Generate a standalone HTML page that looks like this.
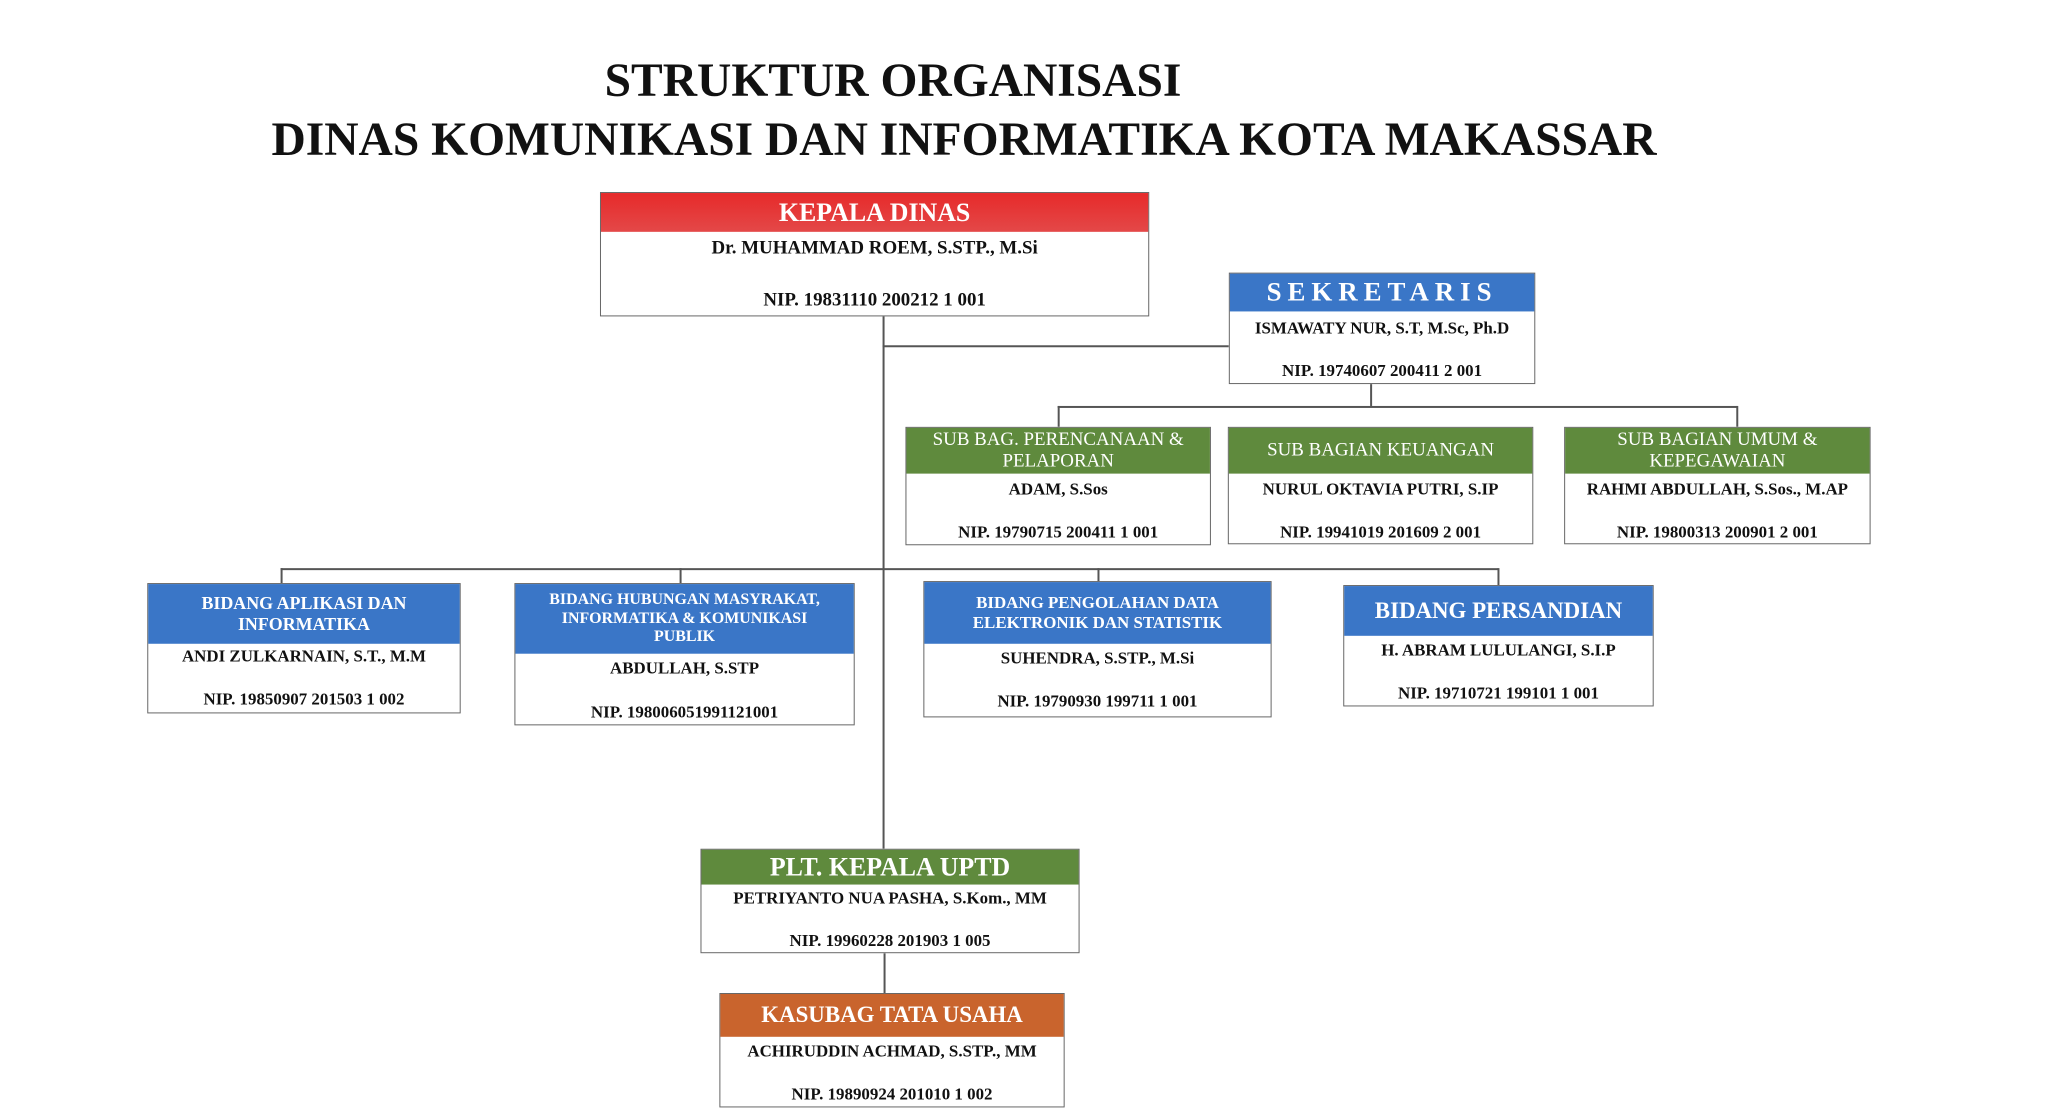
<!DOCTYPE html>
<html><head><meta charset="utf-8"><style>
body{margin:0;width:2048px;height:1117px;background:#fff;position:relative;overflow:hidden;font-family:"Liberation Serif",serif;font-weight:bold}
.t{position:absolute;white-space:nowrap;transform:translate(-50%,-50%);color:#111}
#d{position:absolute;left:0;top:0;width:2048px;height:1117px;transform:scale(0.995);transform-origin:0 0}
.b{position:absolute;border:1.5px solid #666;background:#fff;box-sizing:border-box}
.h{position:absolute;left:0;right:0;top:0;color:#fff;display:flex;align-items:center;justify-content:center;text-align:center;line-height:1.15}
.l{position:absolute;background:#555}
.red{background:linear-gradient(#e62a2a,#e44848)}
.blue{background:#3a76c7}
.green{background:#5f8a3d}
.org{background:#c9642d}
.n{position:absolute;left:0;right:0;text-align:center;font-size:18px;transform:translateY(-50%);color:#111;white-space:nowrap}
</style></head><body>
<div class="t" style="left:893px;top:81px;font-size:47.5px">STRUKTUR ORGANISASI</div>
<div class="t" style="left:964px;top:140px;font-size:47.5px">DINAS KOMUNIKASI DAN INFORMATIKA KOTA MAKASSAR</div>
<div id="d">
<div class="l" style="left:887px;top:318px;width:1.5px;height:535px"></div>
<div class="l" style="left:887px;top:347px;width:348px;height:1.5px"></div>
<div class="l" style="left:1377px;top:386px;width:1.5px;height:22px"></div>
<div class="l" style="left:1063px;top:408px;width:683px;height:1.5px"></div>
<div class="l" style="left:1063px;top:408px;width:1.5px;height:21px"></div>
<div class="l" style="left:1745px;top:408px;width:1.5px;height:21px"></div>
<div class="l" style="left:282px;top:571px;width:1224px;height:1.5px"></div>
<div class="l" style="left:282px;top:571px;width:1.5px;height:15px"></div>
<div class="l" style="left:683px;top:571px;width:1.5px;height:15px"></div>
<div class="l" style="left:1103px;top:571px;width:1.5px;height:13px"></div>
<div class="l" style="left:1505px;top:571px;width:1.5px;height:17px"></div>
<div class="l" style="left:888px;top:958px;width:1.5px;height:40px"></div>

<div class="b" style="left:603px;top:193px;width:552px;height:125px"><div class="h red" style="height:39px;font-size:26px">KEPALA DINAS</div>
<div class="n" style="top:56px;font-size:19px">Dr. MUHAMMAD ROEM, S.STP., M.Si</div><div class="n" style="top:108px;font-size:19px">NIP. 19831110 200212 1 001</div></div>

<div class="b" style="left:1235px;top:274px;width:308px;height:112px"><div class="h blue" style="height:38px;font-size:27px;letter-spacing:6px">SEKRETARIS</div>
<div class="n" style="top:55px;font-size:17px">ISMAWATY NUR, S.T, M.Sc, Ph.D</div><div class="n" style="top:98px;font-size:17px">NIP. 19740607 200411 2 001</div></div>

<div class="b" style="left:910px;top:429px;width:307px;height:119px"><div class="h green" style="height:46px;font-size:19px;font-weight:normal">SUB BAG. PERENCANAAN &amp;<br>PELAPORAN</div>
<div class="n" style="top:62px;font-size:17px">ADAM, S.Sos</div><div class="n" style="top:105px;font-size:17px">NIP. 19790715 200411 1 001</div></div>
<div class="b" style="left:1234px;top:429px;width:307px;height:118px"><div class="h green" style="height:46px;font-size:19px;font-weight:normal">SUB BAGIAN KEUANGAN</div>
<div class="n" style="top:62px;font-size:17px">NURUL OKTAVIA PUTRI, S.IP</div><div class="n" style="top:105px;font-size:17px">NIP. 19941019 201609 2 001</div></div>
<div class="b" style="left:1572px;top:429px;width:308px;height:118px"><div class="h green" style="height:46px;font-size:19px;font-weight:normal">SUB BAGIAN UMUM &amp;<br>KEPEGAWAIAN</div>
<div class="n" style="top:62px;font-size:17px">RAHMI ABDULLAH, S.Sos., M.AP</div><div class="n" style="top:105px;font-size:17px">NIP. 19800313 200901 2 001</div></div>

<div class="b" style="left:148px;top:586px;width:315px;height:131px"><div class="h blue" style="height:60px;font-size:18px">BIDANG APLIKASI DAN<br>INFORMATIKA</div>
<div class="n" style="top:73px;font-size:17px">ANDI ZULKARNAIN, S.T., M.M</div><div class="n" style="top:116px;font-size:17px">NIP. 19850907 201503 1 002</div></div>
<div class="b" style="left:517px;top:586px;width:342px;height:143px"><div class="h blue" style="height:70px;font-size:16px">BIDANG HUBUNGAN MASYRAKAT,<br>INFORMATIKA &amp; KOMUNIKASI<br>PUBLIK</div>
<div class="n" style="top:85px;font-size:17px">ABDULLAH, S.STP</div><div class="n" style="top:129px;font-size:17px">NIP. 198006051991121001</div></div>
<div class="b" style="left:928px;top:584px;width:350px;height:137px"><div class="h blue" style="height:62px;font-size:17px">BIDANG PENGOLAHAN DATA<br>ELEKTRONIK DAN STATISTIK</div>
<div class="n" style="top:77px;font-size:17px">SUHENDRA, S.STP., M.Si</div><div class="n" style="top:120px;font-size:17px">NIP. 19790930 199711 1 001</div></div>
<div class="b" style="left:1350px;top:588px;width:312px;height:122px"><div class="h blue" style="height:50px;font-size:23px">BIDANG PERSANDIAN</div>
<div class="n" style="top:65px;font-size:17px">H. ABRAM LULULANGI, S.I.P</div><div class="n" style="top:108px;font-size:17px">NIP. 19710721 199101 1 001</div></div>

<div class="b" style="left:704px;top:853px;width:381px;height:105px"><div class="h green" style="height:35px;font-size:26px">PLT. KEPALA UPTD</div>
<div class="n" style="top:49px;font-size:17px">PETRIYANTO NUA PASHA, S.Kom., MM</div><div class="n" style="top:92px;font-size:17px">NIP. 19960228 201903 1 005</div></div>
<div class="b" style="left:723px;top:998px;width:347px;height:115px"><div class="h org" style="height:43px;font-size:23px">KASUBAG TATA USAHA</div>
<div class="n" style="top:58px;font-size:17px">ACHIRUDDIN ACHMAD, S.STP., MM</div><div class="n" style="top:101px;font-size:17px">NIP. 19890924 201010 1 002</div></div>
</div>
</body></html>
